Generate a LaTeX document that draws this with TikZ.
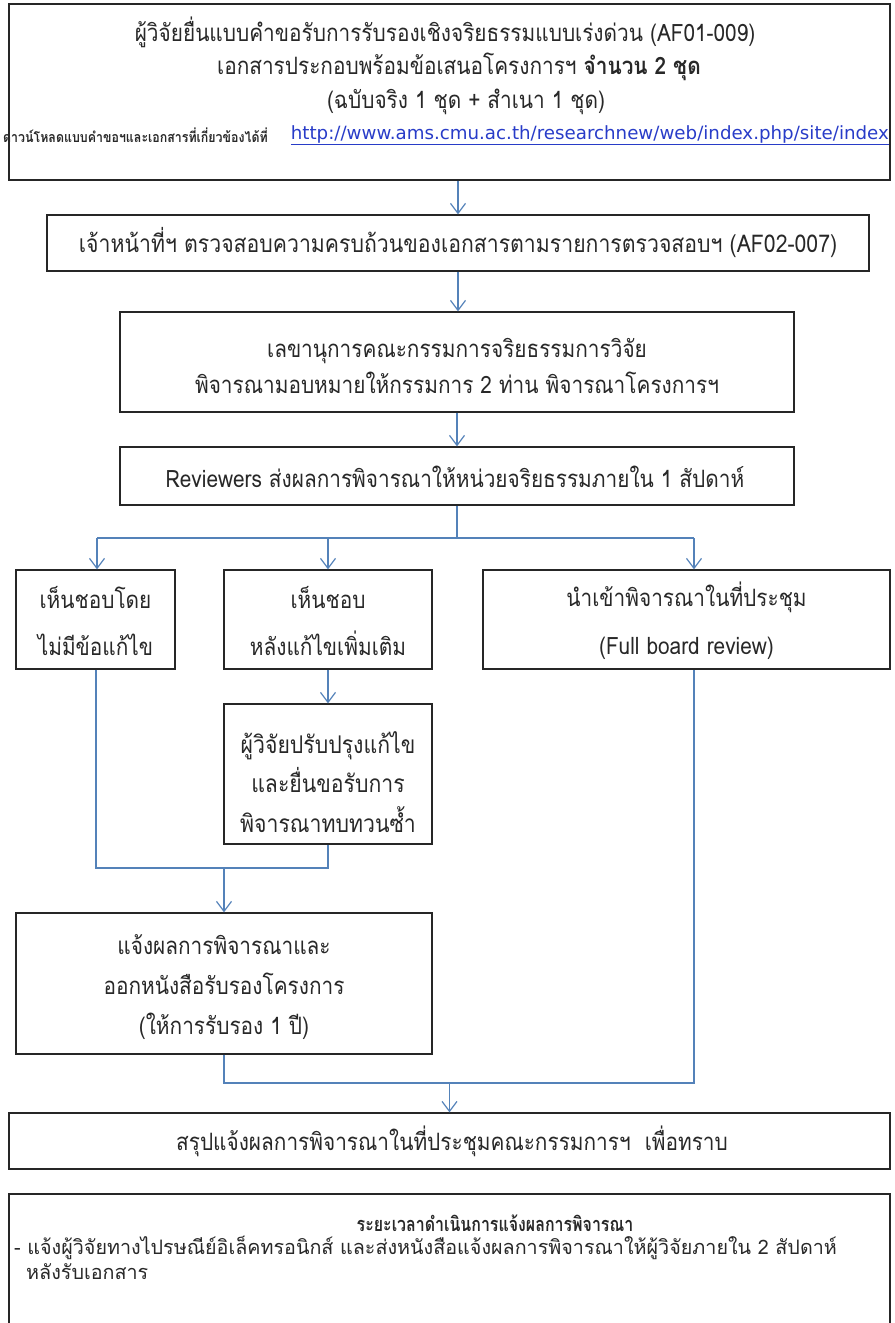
\documentclass[tikz,border=0pt]{standalone}
\usepackage{fontspec}
\setmainfont[Script=Thai,FakeStretch=0.87]{Loma}
\newfontfamily\titlefont[Script=Thai,FakeStretch=0.8]{Loma}
\newfontfamily\notefont[Script=Thai,FakeStretch=0.99]{Loma}
\newfontfamily\urlfont{DejaVu Sans}
\usetikzlibrary{arrows.meta}
\definecolor{linkblue}{RGB}{84,130,185}
\definecolor{urlblue}{RGB}{40,60,200}
\definecolor{ink}{RGB}{40,40,40}
\tikzset{
  box/.style={draw=black!85, line width=1.3bp, inner sep=0pt},
  txt/.style={inner sep=0pt, text=ink, align=center, font=\fontsize{24}{36}\selectfont},
  conn/.style={draw=linkblue, line width=1.2bp},
  arr/.style={conn, -{Straight Barb[length=10bp,width=15bp,line width=1.2bp]}}
}
\begin{document}
\begin{tikzpicture}[x=1bp,y=-1bp]
\useasboundingbox (0,0) rectangle (894,1323);
\clip (0,0) rectangle (894,1323);
% boxes
\node[box, minimum width=881bp, minimum height=176bp] (b1) at (449.5,92) {};
\node[txt] (b1l1) at (445,32) {ผู้วิจัยยื่นแบบคำขอรับการรับรองเชิงจริยธรรมแบบเร่งด่วน (AF01-009)};
\node[txt] (b1l2) at (459,67) {เอกสารประกอบพร้อมข้อเสนอโครงการฯ \textbf{จำนวน 2 ชุด}};
\node[txt] (b1l3) at (466,102) {(ฉบับจริง 1 ชุด + สำเนา 1 ชุด)};
\node[txt, anchor=west, font=\fontsize{14.3}{16}\selectfont\bfseries] (b1l4) at (3,135) {ดาวน์โหลดแบบคำขอฯและเอกสารที่เกี่ยวข้องได้ที่};
\node[txt, anchor=east, text=urlblue, font=\urlfont\fontsize{18.3}{20}\selectfont] (b1url) at (889,135) {\underline{http://www.ams.cmu.ac.th/researchnew/web/index.php/site/index}};

\node[box, minimum width=822bp, minimum height=56bp] (b2) at (458,243) {};
\node[txt, font=\fontsize{24.5}{36}\selectfont] (t2) at (458,243) {เจ้าหน้าที่ฯ ตรวจสอบความครบถ้วนของเอกสารตามรายการตรวจสอบฯ (AF02-007)};
\node[box, minimum width=674bp, minimum height=100bp] (b3) at (457,362) {};
\node[txt] (t3) at (457,366) {เลขานุการคณะกรรมการจริยธรรมการวิจัย\\พิจารณามอบหมายให้กรรมการ 2 ท่าน พิจารณาโครงการฯ};
\node[box, minimum width=674bp, minimum height=58bp] (b4) at (457,476) {};
\node[txt] (t4) at (455,477) {Reviewers ส่งผลการพิจารณาให้หน่วยจริยธรรมภายใน 1 สัปดาห์};
\node[box, minimum width=159bp, minimum height=99bp] (b5a) at (95.5,619.5) {};
\node[txt, font=\fontsize{24}{48}\selectfont] (t5a) at (95.5,621) {เห็นชอบโดย\\ไม่มีข้อแก้ไข};
\node[box, minimum width=208bp, minimum height=99bp] (b5b) at (328,619.5) {};
\node[txt, font=\fontsize{24}{48}\selectfont] (t5b) at (328,621) {เห็นชอบ\\หลังแก้ไขเพิ่มเติม};
\node[box, minimum width=407bp, minimum height=99bp] (b5c) at (686.5,619.5) {};
\node[txt, font=\fontsize{24}{48}\selectfont] (t5c) at (686.5,621) {นำเข้าพิจารณาในที่ประชุม\\(Full board review)};
\node[box, minimum width=208bp, minimum height=140bp] (b6) at (328,774) {};
\node[txt, font=\fontsize{24.5}{39.5}\selectfont] (t6) at (328,782) {ผู้วิจัยปรับปรุงแก้ไข\\และยื่นขอรับการ\\พิจารณาทบทวนซ้ำ};
\node[box, minimum width=416bp, minimum height=141bp] (b7) at (224,983.5) {};
\node[txt, font=\fontsize{24}{40}\selectfont] (t7) at (224,987) {แจ้งผลการพิจารณาและ\\ออกหนังสือรับรองโครงการ\\(ให้การรับรอง 1 ปี)};
\node[box, minimum width=881bp, minimum height=56bp] (b8) at (449.5,1141) {};
\node[txt] (t8) at (452,1141) {สรุปแจ้งผลการพิจารณาในที่ประชุมคณะกรรมการฯ~~เพื่อทราบ};
\node[box, minimum width=881bp, minimum height=150bp] (b9) at (449.5,1269) {};
\node[txt, font=\titlefont\fontsize{20}{24}\selectfont\bfseries] (b9t) at (495,1223) {ระยะเวลาดำเนินการแจ้งผลการพิจารณา};
\node[txt, anchor=west, font=\notefont\fontsize{20}{24}\selectfont] (b9l1) at (14,1248) {- แจ้งผู้วิจัยทางไปรษณีย์อิเล็คทรอนิกส์ และส่งหนังสือแจ้งผลการพิจารณาให้ผู้วิจัยภายใน 2 สัปดาห์};
\node[txt, anchor=west, font=\notefont\fontsize{20}{24}\selectfont] (b9l2) at (26,1272) {หลังรับเอกสาร};

% connectors
\draw[arr] (b2.north |- b1.south) -- (b2.north);
\draw[arr] (b2.south) -- (b3.north -| b2.south);
\draw[arr] (b3.south) -- (b4.north);
\coordinate (split) at (457,538);
\coordinate (bl) at (97,538);
\coordinate (br) at (694,538);
\draw[conn] (b4.south) -- (split);
\draw[conn] (bl) -- (br);
\draw[arr] (bl) -- (bl |- b5a.north);
\draw[arr] (split -| b5b.north) -- (b5b.north);
\draw[arr] (br) -- (br |- b5c.north);
\draw[arr] (b5b.south) -- (b6.north);
\coordinate (m1) at (96,868);
\coordinate (m2) at (328,868);
\draw[conn] (m1 |- b5a.south) -- (m1) -- (m2) -- (b6.south);
\draw[arr] (m1 -| b7.north) -- (b7.north);
\coordinate (j1) at (224,1083);
\coordinate (j2) at (694,1083);
\draw[conn] (b7.south) -- (j1) -- (j2) -- (j2 |- b5c.south);
\draw[arr] (j1 -| b8.north) -- (b8.north);
\end{tikzpicture}
\end{document}
